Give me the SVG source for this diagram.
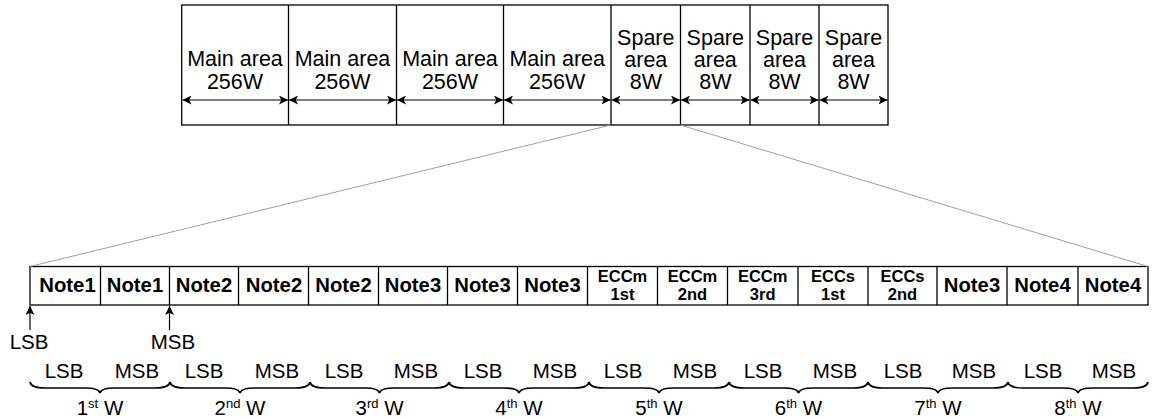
<svg xmlns="http://www.w3.org/2000/svg" width="1155" height="419" viewBox="0 0 1155 419">
<style>
.t{font-family:"Liberation Sans",Arial,sans-serif;fill:#000;text-anchor:middle}
.top{font-size:21.5px}
.nb{font-size:20.3px;font-weight:bold}
.eb{font-size:16.5px;font-weight:bold}
.lb{font-size:20.5px}
.sup{font-size:13px}
.box{fill:#fff;stroke:#000;stroke-width:1.3}
.dim{stroke:#000;stroke-width:1.2;fill:none}
.up{stroke:#000;stroke-width:1.2;fill:none}
.zoom{stroke:#a0a0a0;stroke-width:1;fill:none}
.brace{stroke:#000;stroke-width:1.7;fill:none}
</style>
<defs>
<marker id="ah" viewBox="0 0 10 10" refX="10" refY="5" markerWidth="9" markerHeight="9" markerUnits="userSpaceOnUse" orient="auto">
<path d="M0,0 L10,5 L0,10 L2.5,5 z" fill="#000"/>
</marker>
<marker id="ahs" viewBox="0 0 10 10" refX="0" refY="5" markerWidth="9" markerHeight="9" markerUnits="userSpaceOnUse" orient="auto">
<path d="M10,0 L0,5 L10,10 L7.5,5 z" fill="#000"/>
</marker>
</defs>

<g id="top-area">
<rect class="box" x="181.7" y="5" width="706.3" height="120"/>
<g stroke="#000" stroke-width="1.3">
<line x1="288.5" y1="5" x2="288.5" y2="125"/>
<line x1="396.5" y1="5" x2="396.5" y2="125"/>
<line x1="503.5" y1="5" x2="503.5" y2="125"/>
<line x1="611" y1="5" x2="611" y2="125"/>
<line x1="680.5" y1="5" x2="680.5" y2="125"/>
<line x1="750" y1="5" x2="750" y2="125"/>
<line x1="819" y1="5" x2="819" y2="125"/>
</g>
</g>
<g id="main1"><text class="t top" x="235" y="65.5">Main area</text><text class="t top" x="235" y="88.5">256W</text></g>
<g id="main2"><text class="t top" x="342.5" y="65.5">Main area</text><text class="t top" x="342.5" y="88.5">256W</text></g>
<g id="main3"><text class="t top" x="450" y="65.5">Main area</text><text class="t top" x="450" y="88.5">256W</text></g>
<g id="main4"><text class="t top" x="557.2" y="65.5">Main area</text><text class="t top" x="557.2" y="88.5">256W</text></g>
<g id="spare1"><text class="t top" x="645.8" y="44.5">Spare</text><text class="t top" x="645.8" y="66.8">area</text><text class="t top" x="645.8" y="89.1">8W</text></g>
<g id="spare2"><text class="t top" x="715.3" y="44.5">Spare</text><text class="t top" x="715.3" y="66.8">area</text><text class="t top" x="715.3" y="89.1">8W</text></g>
<g id="spare3"><text class="t top" x="784.5" y="44.5">Spare</text><text class="t top" x="784.5" y="66.8">area</text><text class="t top" x="784.5" y="89.1">8W</text></g>
<g id="spare4"><text class="t top" x="853.5" y="44.5">Spare</text><text class="t top" x="853.5" y="66.8">area</text><text class="t top" x="853.5" y="89.1">8W</text></g>

<g id="byte-row">
<rect class="box" x="30" y="266.5" width="1118" height="38.5"/>
<g stroke="#000" stroke-width="1.3">
<line x1="100.5" y1="266.5" x2="100.5" y2="305"/>
<line x1="169.5" y1="266.5" x2="169.5" y2="305"/>
<line x1="238.5" y1="266.5" x2="238.5" y2="305"/>
<line x1="308.5" y1="266.5" x2="308.5" y2="305"/>
<line x1="378.5" y1="266.5" x2="378.5" y2="305"/>
<line x1="447.5" y1="266.5" x2="447.5" y2="305"/>
<line x1="517.5" y1="266.5" x2="517.5" y2="305"/>
<line x1="587.5" y1="266.5" x2="587.5" y2="305"/>
<line x1="657.5" y1="266.5" x2="657.5" y2="305"/>
<line x1="727.5" y1="266.5" x2="727.5" y2="305"/>
<line x1="798" y1="266.5" x2="798" y2="305"/>
<line x1="868" y1="266.5" x2="868" y2="305"/>
<line x1="937" y1="266.5" x2="937" y2="305"/>
<line x1="1007" y1="266.5" x2="1007" y2="305"/>
<line x1="1078" y1="266.5" x2="1078" y2="305"/>
</g>
</g>
<g id="c1"><text class="t nb" x="67.5" y="291.5">Note1</text></g>
<g id="c2"><text class="t nb" x="135" y="291.5">Note1</text></g>
<g id="c3"><text class="t nb" x="204" y="291.5">Note2</text></g>
<g id="c4"><text class="t nb" x="274" y="291.5">Note2</text></g>
<g id="c5"><text class="t nb" x="343.5" y="291.5">Note2</text></g>
<g id="c6"><text class="t nb" x="413" y="291.5">Note3</text></g>
<g id="c7"><text class="t nb" x="482.5" y="291.5">Note3</text></g>
<g id="c8"><text class="t nb" x="552.5" y="291.5">Note3</text></g>
<g id="c9"><text class="t eb" x="622.5" y="282">ECCm</text><text class="t eb" x="622.5" y="300">1st</text></g>
<g id="c10"><text class="t eb" x="692.5" y="282">ECCm</text><text class="t eb" x="692.5" y="300">2nd</text></g>
<g id="c11"><text class="t eb" x="762.7" y="282">ECCm</text><text class="t eb" x="762.7" y="300">3rd</text></g>
<g id="c12"><text class="t eb" x="833" y="282">ECCs</text><text class="t eb" x="833" y="300">1st</text></g>
<g id="c13"><text class="t eb" x="902.5" y="282">ECCs</text><text class="t eb" x="902.5" y="300">2nd</text></g>
<g id="c14"><text class="t nb" x="972" y="291.5">Note3</text></g>
<g id="c15"><text class="t nb" x="1042.5" y="291.5">Note4</text></g>
<g id="c16"><text class="t nb" x="1113" y="291.5">Note4</text></g>

<g id="lsb-label"><text class="t lb" x="29" y="349">LSB</text></g>
<g id="msb-label"><text class="t lb" x="173" y="349">MSB</text></g>

<g id="words">
<g class="t lb">
<text x="64" y="378">LSB</text><text x="137" y="378">MSB</text>
<text x="204" y="378">LSB</text><text x="277" y="378">MSB</text>
<text x="344" y="378">LSB</text><text x="416" y="378">MSB</text>
<text x="483" y="378">LSB</text><text x="555" y="378">MSB</text>
<text x="623" y="378">LSB</text><text x="695" y="378">MSB</text>
<text x="763" y="378">LSB</text><text x="835" y="378">MSB</text>
<text x="903" y="378">LSB</text><text x="974" y="378">MSB</text>
<text x="1043" y="378">LSB</text><text x="1114" y="378">MSB</text>
</g>
<path class="brace" d="M30,382 Q31,388 45,388 L85,388 Q99,388 100,393 Q101,388 115,388 L155,388 Q169,388 170,382"/>
<path class="brace" d="M170,382 Q171,388 185,388 L225,388 Q239,388 240,393 Q241,388 255,388 L295,388 Q309,388 310,382"/>
<path class="brace" d="M310,382 Q311,388 325,388 L364.5,388 Q378.5,388 379.5,393 Q380.5,388 394.5,388 L434,388 Q448,388 449,382"/>
<path class="brace" d="M449,382 Q450,388 464,388 L504,388 Q518,388 519,393 Q520,388 534,388 L574,388 Q588,388 589,382"/>
<path class="brace" d="M589,382 Q590,388 604,388 L644,388 Q658,388 659,393 Q660,388 674,388 L714,388 Q728,388 729,382"/>
<path class="brace" d="M729,382 Q730,388 744,388 L783.5,388 Q797.5,388 798.5,393 Q799.5,388 813.5,388 L853,388 Q867,388 868,382"/>
<path class="brace" d="M868,382 Q869,388 883,388 L923,388 Q937,388 938,393 Q939,388 953,388 L993,388 Q1007,388 1008,382"/>
<path class="brace" d="M1008,382 Q1009,388 1023,388 L1063,388 Q1077,388 1078,393 Q1079,388 1093,388 L1133,388 Q1147,388 1148,382"/>
<g class="t lb">
<text x="100" y="415">1<tspan class="sup" dy="-7">st</tspan><tspan dy="7"> W</tspan></text>
<text x="240" y="415">2<tspan class="sup" dy="-7">nd</tspan><tspan dy="7"> W</tspan></text>
<text x="379.5" y="415">3<tspan class="sup" dy="-7">rd</tspan><tspan dy="7"> W</tspan></text>
<text x="519" y="415">4<tspan class="sup" dy="-7">th</tspan><tspan dy="7"> W</tspan></text>
<text x="659" y="415">5<tspan class="sup" dy="-7">th</tspan><tspan dy="7"> W</tspan></text>
<text x="798.5" y="415">6<tspan class="sup" dy="-7">th</tspan><tspan dy="7"> W</tspan></text>
<text x="938" y="415">7<tspan class="sup" dy="-7">th</tspan><tspan dy="7"> W</tspan></text>
<text x="1078" y="415">8<tspan class="sup" dy="-7">th</tspan><tspan dy="7"> W</tspan></text>
</g>
</g>

<g id="connectors">
<line class="zoom" x1="611" y1="125" x2="30" y2="266.5"/>
<line class="zoom" x1="680.5" y1="125" x2="1148" y2="266.5"/>
<line class="dim" x1="182.5" y1="100" x2="288" y2="100" marker-start="url(#ahs)" marker-end="url(#ah)"/>
<line class="dim" x1="289" y1="100" x2="396" y2="100" marker-start="url(#ahs)" marker-end="url(#ah)"/>
<line class="dim" x1="397" y1="100" x2="503" y2="100" marker-start="url(#ahs)" marker-end="url(#ah)"/>
<line class="dim" x1="504" y1="100" x2="610.5" y2="100" marker-start="url(#ahs)" marker-end="url(#ah)"/>
<line class="dim" x1="611.5" y1="100" x2="680" y2="100" marker-start="url(#ahs)" marker-end="url(#ah)"/>
<line class="dim" x1="681" y1="100" x2="749.5" y2="100" marker-start="url(#ahs)" marker-end="url(#ah)"/>
<line class="dim" x1="750.5" y1="100" x2="818.5" y2="100" marker-start="url(#ahs)" marker-end="url(#ah)"/>
<line class="dim" x1="819.5" y1="100" x2="887.5" y2="100" marker-start="url(#ahs)" marker-end="url(#ah)"/>
<line class="up" x1="30" y1="330" x2="30" y2="306" marker-end="url(#ah)"/>
<line class="up" x1="169.5" y1="330" x2="169.5" y2="306" marker-end="url(#ah)"/>
</g>
</svg>
